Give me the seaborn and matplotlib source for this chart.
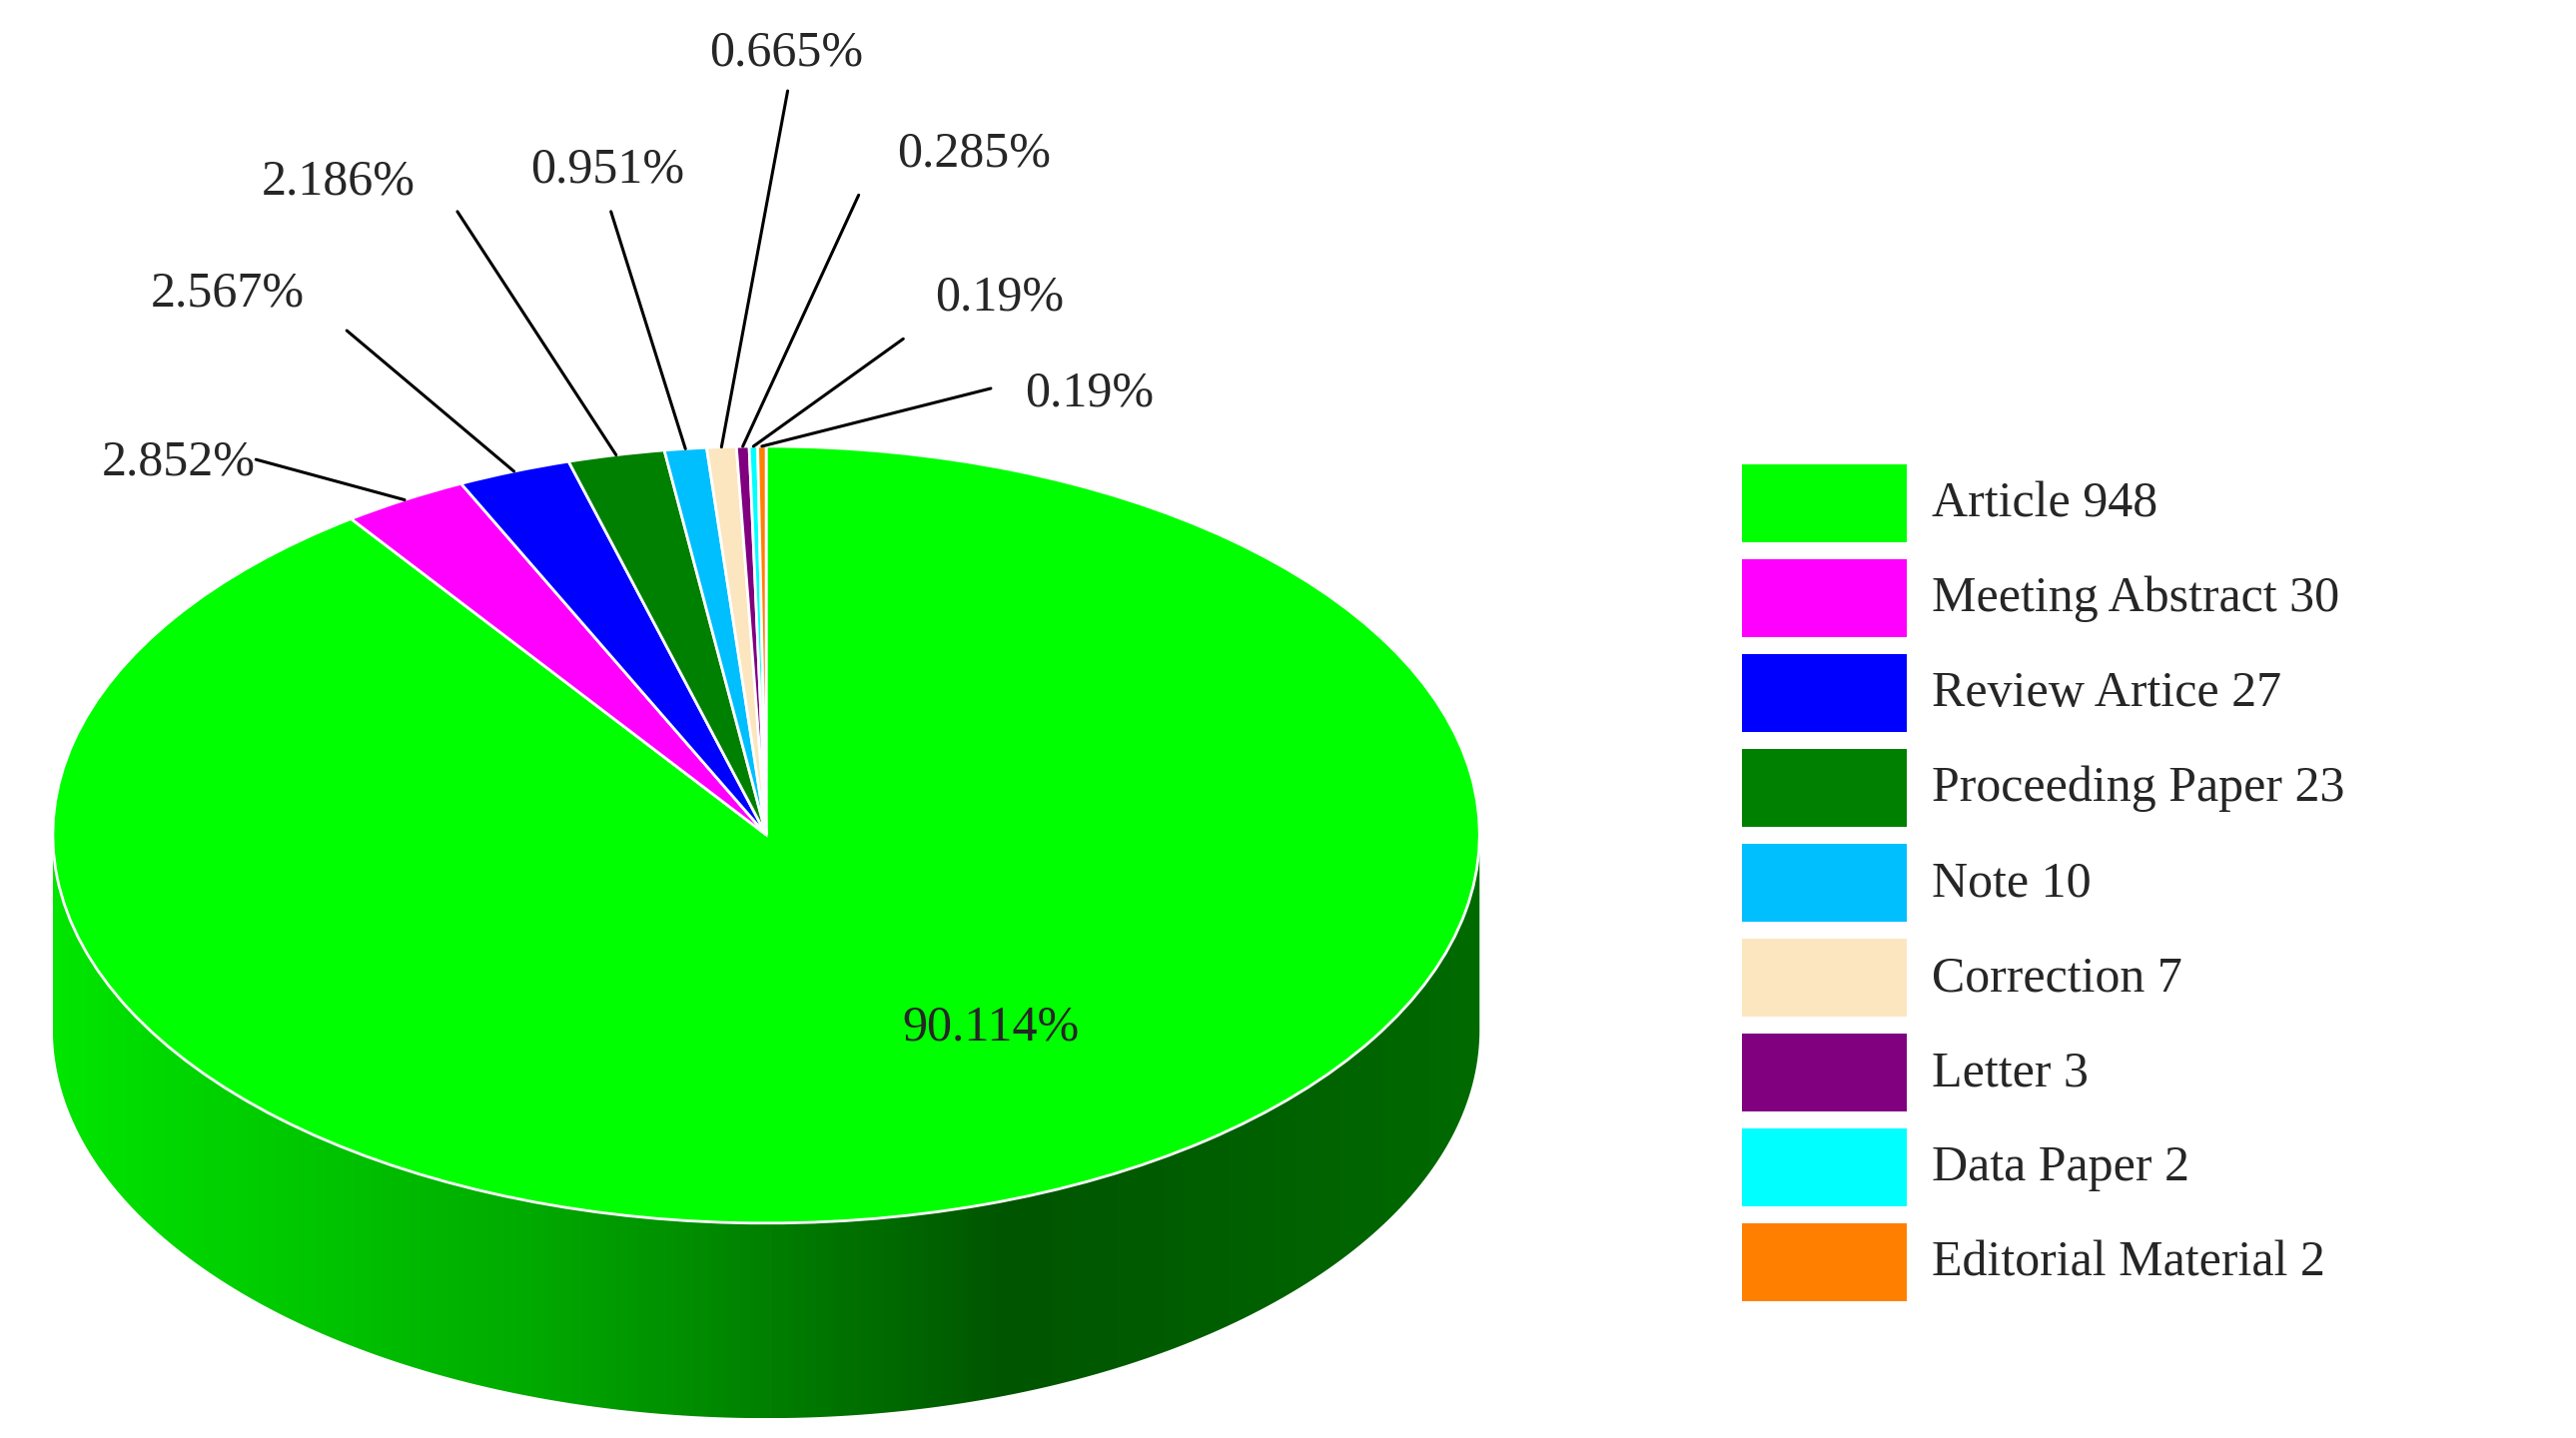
import numpy as np
import matplotlib
matplotlib.use("Agg")
import matplotlib.pyplot as plt
from matplotlib.patches import Rectangle, PathPatch
from matplotlib.path import Path
from matplotlib.transforms import Affine2D
import seaborn as sns

categories = ["Article", "Meeting Abstract", "Review Artice", "Proceeding Paper", "Note",
              "Correction", "Letter", "Data Paper", "Editorial Material"]
counts = [948, 30, 27, 23, 10, 7, 3, 2, 2]
colors = ["#00FF00", "#FF00FF", "#0000FF", "#008000", "#00BFFF",
          "#FCE6C0", "#800080", "#00FFFF", "#FF8000"]

sns.set_theme(style="white")
plt.rcParams["font.family"] = ["Liberation Serif", "DejaVu Serif"]

W, H = 1560, 870
fig = plt.figure(figsize=(25.79, 14.40), dpi=100)
ax = fig.add_axes([0, 0, 1, 1])
ax.set_xlim(0, W)
ax.set_ylim(H, 0)
ax.axis("off")

cx, cy, a, b, depth = 464, 505, 432, 235, 118
ell = Affine2D().scale(a, -b).translate(cx, cy) + ax.transData

# side of the cylinder (front half) with gradient
t = np.linspace(np.pi, 2 * np.pi, 200)
top = np.column_stack([cx + a * np.cos(t), cy - b * np.sin(t)])
bot = top[::-1] + [0, depth]
verts = np.vstack([top, bot, top[:1]])
side = PathPatch(Path(verts, closed=True), facecolor="none", edgecolor="none")
ax.add_patch(side)
cmap = matplotlib.colors.ListedColormap(
    sns.blend_palette(["#00E600", "#00AA00", "#005500", "#006A00"], 256))
grad = np.linspace(0, 1, 256)[None, :]
im = ax.imshow(grad, cmap=cmap, extent=[cx - a, cx + a, cy + b + depth, cy - 5],
               aspect="auto", zorder=1)
im.set_clip_path(side)

# top face
wedges, _ = ax.pie(counts, colors=colors, startangle=90, counterclock=False,
                   wedgeprops=dict(linewidth=2, edgecolor="white"))
for w in wedges:
    w.set_transform(ell)
    w.set_zorder(2)
ax.set_xlim(0, W)
ax.set_ylim(H, 0)
ax.set_aspect("auto")

total = sum(counts)
pcts = [f"{100 * c / total:.3f}".rstrip("0").rstrip(".") + "%" for c in counts]

ax.text(600, 622, pcts[0], fontsize=36, ha="center", va="center", zorder=3)

# label ends (line end, text position, alignment)
label_pos = [
    None,
    ((155, 278), (155, 280), "right"),
    ((210, 200), (138, 178), "center"),
    ((277, 128), (205, 110), "center"),
    ((370, 128), (368, 103), "center"),
    ((477, 55), (476, 32), "center"),
    ((520, 118), (590, 93), "center"),
    ((547, 205), (605, 180), "center"),
    ((600, 235), (660, 238), "center"),
]
for w, p, lp in zip(wedges, pcts, label_pos):
    if lp is None:
        continue
    mid = np.deg2rad((w.theta1 + w.theta2) / 2)
    ex, ey = cx + a * np.cos(mid), cy - b * np.sin(mid)
    (lx, ly), (tx, ty), ha = lp
    ax.plot([ex, lx], [ey, ly], color="black", lw=2.2, zorder=3)
    ax.text(tx, ty, p, fontsize=36, ha=ha, va="center", zorder=3)

# legend
for i, (cat, n, col) in enumerate(zip(categories, counts, colors)):
    y0 = 281 + i * 57.4
    ax.add_patch(Rectangle((1055, y0), 100, 47, facecolor=col, edgecolor="none"))
    ax.text(1170, y0 + 24, f"{cat} {n}", fontsize=36, ha="left", va="center")

fig.savefig("out.png", dpi=100)
